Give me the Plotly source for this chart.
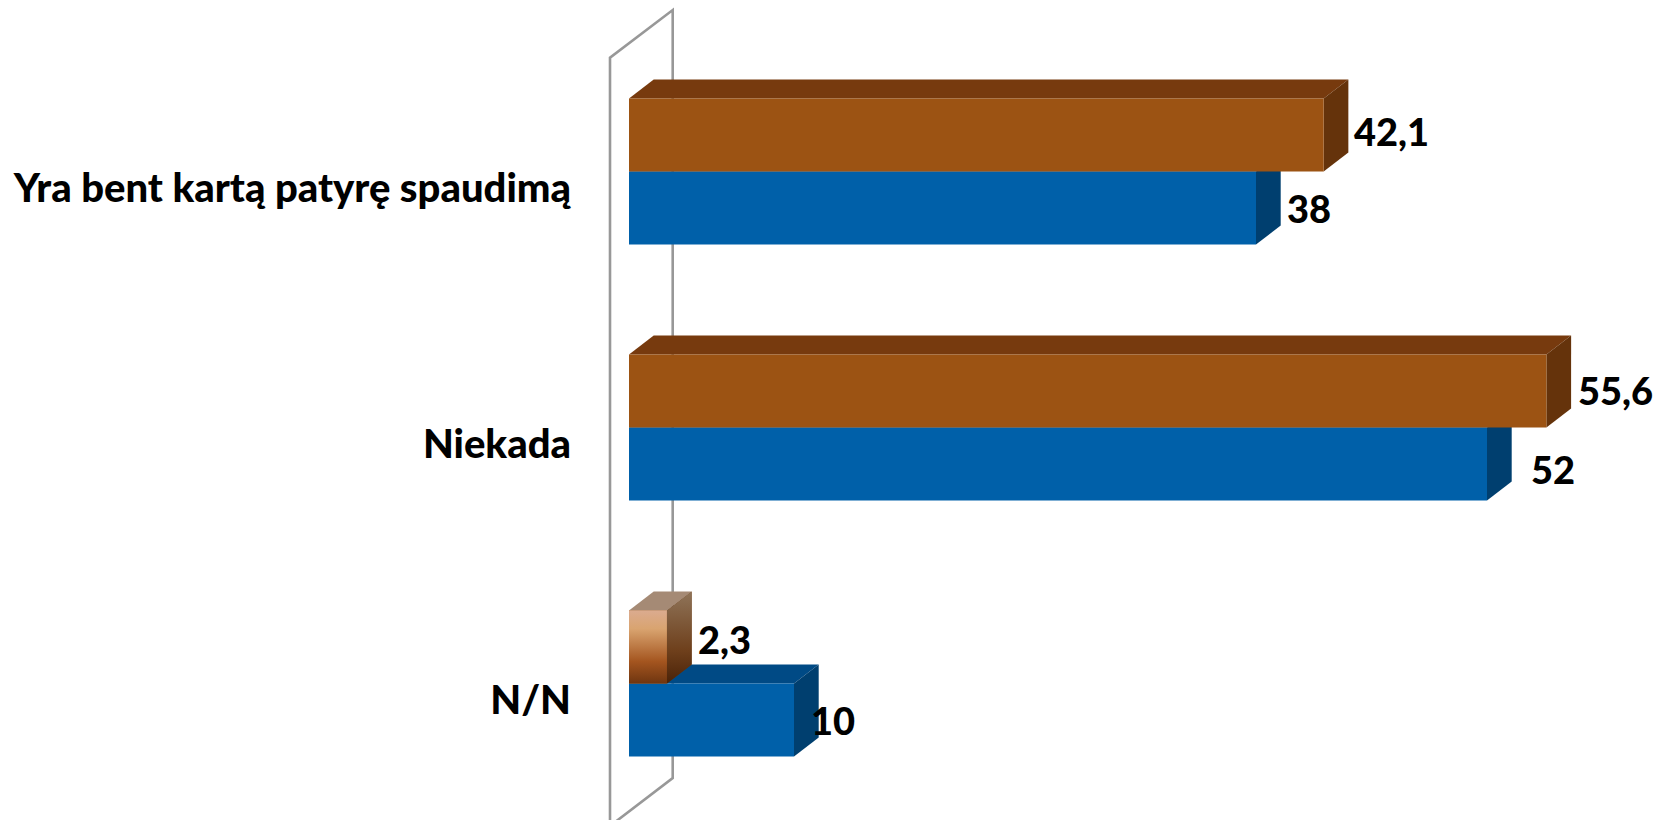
import plotly.graph_objects as go

# ---- data ----
categories = ["Yra bent kartą patyrę spaudimą", "Niekada", "N/N"]
brown_values = [42.1, 55.6, 2.3]
blue_values = [38, 52, 10]

# ---- style / geometry ----
W, H = 1664, 820
PX_PER_UNIT = 16.5
PX_PER_CAT = 256.0
X0_PX = 629.0
Y0_PX = 171.5
LEFT = 572
BAR_W = 73.0 / PX_PER_CAT
DX = 24.7 / PX_PER_UNIT
DY = 19.0 / PX_PER_CAT
LABEL_DROP = 16.0 / PX_PER_CAT

BROWN = "#9C5313"; BROWN_TOP = "#773A0E"; BROWN_SIDE = "#65330B"
BLUE = "#0060A9"; BLUE_TOP = "#004A85"; BLUE_SIDE = "#003F6F"
WALL = "#989898"
FONT = "Lato"
CAT_FS = 40
VAL_FS = 38
WEIGHT = 900

brown_nudge = [(28.5, 4), (29.5, 1.5), (29.5, 8)]
blue_nudge = [(28.5, 0), (41.5, -4.5), (14.5, 0.5)]


def xd(px):
    return (px - X0_PX) / PX_PER_UNIT


def yd(py):
    return (py - Y0_PX) / PX_PER_CAT


positions = list(range(len(categories)))


def path(points, close=True):
    return "M " + " L ".join(f"{x},{y}" for x, y in points) + (" Z" if close else "")


def faces(v, top, bottom):
    top_face = [(0, top), (DX, top - DY), (v + DX, top - DY), (v, top)]
    side_face = [(v, top), (v + DX, top - DY), (v + DX, bottom - DY), (v, bottom)]
    return top_face, side_face


shapes = []
wall_pts = [(xd(610), yd(832)), (xd(610), yd(57.6)), (xd(672.7), yd(10)),
            (xd(672.7), yd(778)), (xd(610), yd(826))]
shapes.append(dict(type="path", path=path(wall_pts, close=False),
                   line=dict(color=WALL, width=2.6), fillcolor="rgba(0,0,0,0)",
                   layer="below", xref="x", yref="y"))

for p, v in zip(positions, blue_values):
    t, s = faces(v, p, p + BAR_W)
    shapes.append(dict(type="path", path=path(t), fillcolor=BLUE_TOP, line_width=0, layer="below"))
    shapes.append(dict(type="path", path=path(s), fillcolor=BLUE_SIDE, line_width=0, layer="below"))
for p, v in zip(positions, brown_values):
    t, s = faces(v, p - BAR_W, p)
    top_col = "#A58A75" if v < 5 else BROWN_TOP
    shapes.append(dict(type="path", path=path(t), fillcolor=top_col, line_width=0, layer="below"))
    shapes.append(dict(type="path", path=path(s), fillcolor=BROWN_SIDE, line_width=0, layer="below"))

fig = go.Figure()
fig.add_trace(go.Bar(y=positions, x=blue_values, orientation="h", width=BAR_W, offset=0,
                     marker=dict(color=BLUE, line_width=0), hoverinfo="skip"))
fig.add_trace(go.Bar(y=positions, x=brown_values, orientation="h", width=BAR_W, offset=-BAR_W,
                     marker=dict(color=BROWN, line_width=0), hoverinfo="skip"))

# gradient finish of the small N/N bar
v = brown_values[2]
p = positions[2]
fig.add_trace(go.Scatter(
    x=[0, v, v, 0, 0], y=[p - BAR_W, p - BAR_W, p, p, p - BAR_W], mode="lines",
    line=dict(width=0), fill="toself", hoverinfo="skip",
    fillgradient=dict(type="vertical", colorscale=[[0, "#6E3510"], [0.3, "#A4551F"], [0.75, "#D9A470"], [1, "#DBAB8F"]])))
fig.add_trace(go.Scatter(
    x=[v, v + DX, v + DX, v, v], y=[p - BAR_W, p - BAR_W - DY, p - DY, p, p - BAR_W], mode="lines",
    line=dict(width=0), fill="toself", hoverinfo="skip",
    fillgradient=dict(type="vertical", colorscale=[[0, "#4A2208"], [0.35, "#6E3F1B"], [1, "#8F7459"]])))

annotations = []
for vals, nudges, off in ((brown_values, brown_nudge, -BAR_W), (blue_values, blue_nudge, 0)):
    for p, v, (nx, ny) in zip(positions, vals, nudges):
        annotations.append(dict(
            x=v, y=p + off + BAR_W / 2, xref="x", yref="y", text=str(v).replace(".", ","),
            showarrow=False, xanchor="left", yanchor="middle", xshift=nx, yshift=ny,
            font=dict(family=FONT, size=VAL_FS, color="#000000", weight=WEIGHT)))

fig.update_layout(
    width=W, height=H, autosize=False, barmode="overlay", showlegend=False,
    paper_bgcolor="#FFFFFF", plot_bgcolor="#FFFFFF",
    margin=dict(l=LEFT, r=0, t=0, b=0, pad=0),
    xaxis=dict(range=[xd(LEFT), xd(W)], visible=False, fixedrange=True),
    yaxis=dict(range=[yd(H), yd(0)], tickmode="array",
               tickvals=[p + LABEL_DROP for p in positions], ticktext=categories,
               showgrid=False, zeroline=False, showline=False, ticks="",
               tickfont=dict(family=FONT, size=CAT_FS, color="#000000", weight=WEIGHT)),
    shapes=shapes, annotations=annotations,
)
fig.write_html("out.html", config=dict(displayModeBar=False),
               post_script="document.body.style.margin='0';document.documentElement.style.overflow='hidden';")
